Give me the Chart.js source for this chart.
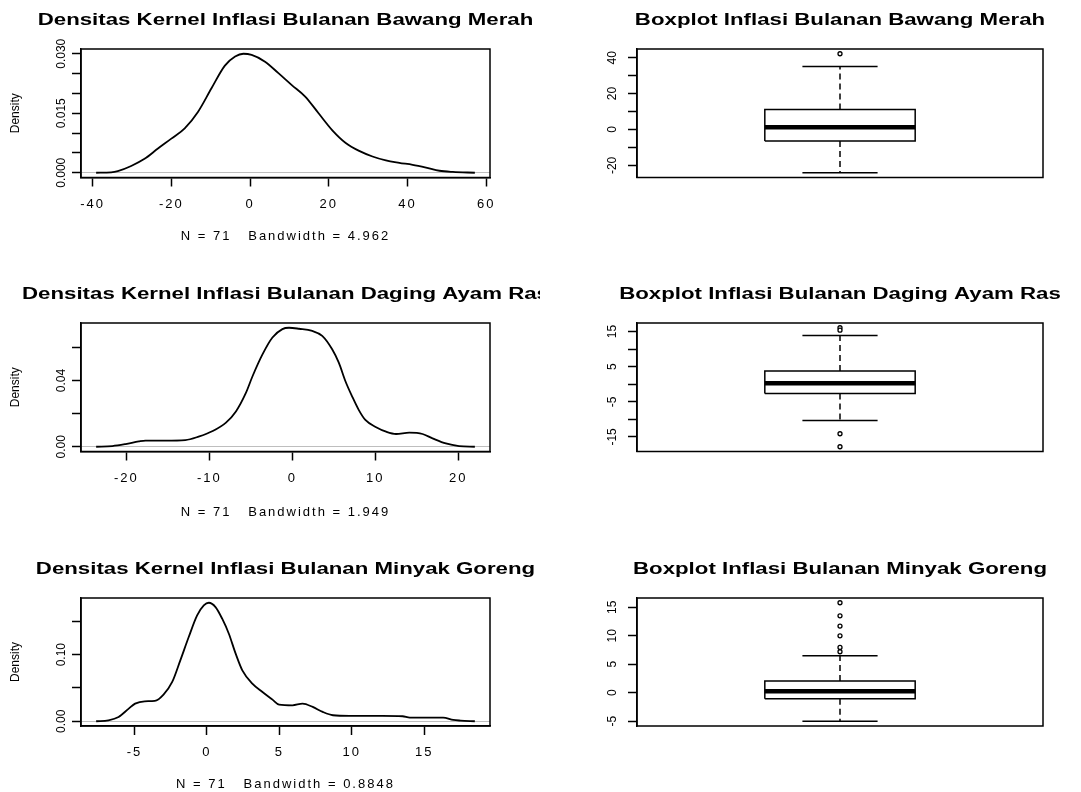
<!DOCTYPE html>
<html>
<head>
<meta charset="utf-8">
<title>Inflasi Bulanan</title>
<script src="https://cdn.jsdelivr.net/npm/chart.js@4.4.1/dist/chart.umd.min.js"></script>
<style>
  body { margin: 0; background: #fff; }
  #wrap { position: relative; width: 1081px; height: 792px; overflow: hidden; }
  #wrap canvas { position: absolute; }
</style>
</head>
<body>
<div id="wrap">
  <canvas id="dens0" width="540" height="264" style="left:0;top:0"></canvas>
  <canvas id="box0" width="541" height="264" style="left:540px;top:0"></canvas>
  <canvas id="dens1" width="540" height="264" style="left:0;top:264px"></canvas>
  <canvas id="box1" width="541" height="264" style="left:540px;top:264px"></canvas>
  <canvas id="dens2" width="540" height="264" style="left:0;top:528px"></canvas>
  <canvas id="box2" width="541" height="264" style="left:540px;top:528px"></canvas>
</div>
<script>
// ---- data ----
var komoditas = ['Bawang Merah', 'Daging Ayam Ras', 'Minyak Goreng'];
var nObs = 71;
var bandwidth = ['4.962', '1.949', '0.8848'];

// kurva densitas kernel (x, density)
var bawangX = [-39.1, -35.3, -33.6, -30.2, -26.8, -23.4, -20.0, -16.6, -13.2, -9.8, -6.4, -3.8, -1.7, 0.4, 3.8, 7.2, 10.6, 14.0, 17.4, 20.9, 24.3, 27.7, 31.1, 34.5, 37.9, 41.3, 44.7, 48.1, 51.5, 57.1];
var bawangY = [0, 0.0001, 0.0004, 0.0017, 0.0035, 0.0061, 0.0086, 0.0112, 0.0154, 0.0213, 0.0270, 0.0293, 0.0300, 0.0297, 0.0280, 0.0251, 0.0221, 0.0192, 0.0150, 0.0107, 0.0075, 0.0055, 0.0041, 0.0031, 0.0025, 0.0020, 0.0013, 0.0005, 0.0002, 0];
var ayamX = [-23.65, -21.7, -20.1, -18.5, -17.7, -15.3, -12.9, -11.3, -9.6, -8.0, -6.8, -5.6, -4.8, -3.6, -2.4, -1.2, -0.4, 0.8, 2.4, 3.6, 4.8, 5.6, 6.4, 7.2, 8.0, 8.8, 10.1, 11.3, 12.5, 14.1, 15.7, 16.9, 18.5, 20.1, 22.0];
var ayamY = [0, 0.0004, 0.0016, 0.0032, 0.0037, 0.0037, 0.0040, 0.0061, 0.0095, 0.0146, 0.0213, 0.0325, 0.0426, 0.0558, 0.0660, 0.0711, 0.0719, 0.0713, 0.0700, 0.0670, 0.0589, 0.0508, 0.0396, 0.0305, 0.0223, 0.0162, 0.0118, 0.0091, 0.0077, 0.0085, 0.0077, 0.0051, 0.0020, 0.0004, 0];
var minyakX = [-7.65, -6.8, -6.1, -5.4, -4.96, -4.3, -3.6, -3.0, -2.4, -1.84, -1.26, -0.68, -0.22, 0.13, 0.59, 1.05, 1.51, 1.98, 2.44, 3.13, 3.83, 4.52, 4.98, 5.9, 6.6, 7.3, 7.99, 8.7, 9.84, 12.1, 13.5, 14.0, 16.3, 17.0, 17.5, 18.49];
var minyakY = [0, 0.0015, 0.0065, 0.019, 0.0265, 0.030, 0.0305, 0.040, 0.059, 0.0915, 0.1265, 0.159, 0.174, 0.178, 0.1715, 0.154, 0.1315, 0.1015, 0.0765, 0.0565, 0.044, 0.0325, 0.025, 0.024, 0.0265, 0.0215, 0.014, 0.009, 0.008, 0.008, 0.0075, 0.0055, 0.0055, 0.002, 0.001, 0];

// boxplot: [whisker bawah, Q1, median, Q3, whisker atas] dan pencilan
var bawangBox = [-24.1, -6.4, 1.3, 11.2, 35.1];
var bawangOut = [42.2];
var ayamBox = [-10.3, -2.6, 0.3, 3.8, 13.9];
var ayamOut = [16.1, 15.4, -14.1, -17.8];
var minyakBox = [-5.0, -1.05, 0.25, 2.05, 6.5];
var minyakOut = [15.8, 13.5, 11.7, 10.0, 7.95, 7.2];

// label sumbu
var densXLabels = [['-40', '-20', '0', '20', '40', '60'], ['-20', '-10', '0', '10', '20'], ['-5', '0', '5', '10', '15']];
var densYLabels = [['0.000', '0.015', '0.030'], ['0.00', '0.04'], ['0.00', '0.10']];
var boxYLabels = [['-20', '0', '20', '40'], ['-15', '-5', '5', '15'], ['-5', '0', '5', '10', '15']];

var densX = [bawangX, ayamX, minyakX];
var densY = [bawangY, ayamY, minyakY];
var boxStats = [bawangBox, ayamBox, minyakBox];
var boxOut = [bawangOut, ayamOut, minyakOut];

// ---- tampilan ----
var densXStep = [20, 10, 5];
var densYStep = [0.005, 0.02, 0.05];
var densYDec = [3, 2, 2];
var boxYStep = [10, 5, 5];

var plotTop = [49, 59, 70];
var plotBottom = [177.5, 187.5, 198];
var xTitlePad = [20.2, 8.2, 0.2];
var FONT = '"Liberation Sans", Arial, Helvetica, sans-serif';
var BOX_HALF = 0.2, CAP_HALF = 0.1;

Chart.defaults.font.family = FONT;
Chart.defaults.color = '#000';

function lim(values) {
  var lo = Math.min.apply(null, values), hi = Math.max.apply(null, values);
  var d = (hi - lo) * 0.04;
  return [lo - d, hi + d];
}

function pick(labels, dec) {
  return function (v) {
    var s = Number(v).toFixed(dec);
    return labels.indexOf(s) >= 0 ? s : '';
  };
}

// jarak label y (diputar) supaya tengahnya pas
function labelPad(labels, gap) {
  var c = document.createElement('canvas').getContext('2d');
  c.font = '12px ' + FONT;
  var w = Math.max.apply(null, labels.map(function (s) { return c.measureText(s).width; }));
  return gap - w / 2;
}

var frame = {
  id: 'frame',
  beforeDraw: function (chart) { chart.ctx.letterSpacing = '0px'; },
  afterDatasetsDraw: function (chart) {
    var a = chart.chartArea, ctx = chart.ctx;
    ctx.save();
    ctx.strokeStyle = '#000';
    ctx.lineWidth = 1.5;
    ctx.strokeRect(a.left, a.top, a.right - a.left, a.bottom - a.top);
    ctx.restore();
    ctx.letterSpacing = '2px';   // teks horizontal sumbu x
  }
};

// judul panel, ditarik melebar seperti gambar aslinya
var panelTitle = {
  id: 'panelTitle',
  afterDraw: function (chart, args, opts) {
    var a = chart.chartArea, ctx = chart.ctx;
    ctx.save();
    ctx.letterSpacing = '0px';
    ctx.font = 'bold 16px ' + FONT;
    ctx.fillStyle = '#000';
    ctx.textAlign = 'center';
    ctx.textBaseline = 'middle';
    ctx.translate((a.left + a.right) / 2, a.top - 28);
    ctx.scale(1.39, 1);
    ctx.fillText(opts.text, 0, 0);
    ctx.restore();
  }
};

function yAxis(range, step, labels, dec, width, gap, zeroLine) {
  return {
    type: 'linear',
    position: 'left',
    min: range[0],
    max: range[1],
    afterFit: function (s) { s.width = width; },
    border: { color: '#000', width: 1.5 },
    grid: {
      color: function (c) { return zeroLine && c.tick && c.tick.value === 0 ? '#bebebe' : 'rgba(0,0,0,0)'; },
      lineWidth: 1,
      tickColor: '#000',
      tickWidth: 1.5,
      tickLength: 9
    },
    ticks: {
      stepSize: step,
      includeBounds: false,
      autoSkip: false,
      minRotation: 90,
      maxRotation: 90,
      crossAlign: 'center',
      padding: labelPad(labels, gap),
      font: { size: 12 },
      callback: pick(labels, dec)
    }
  };
}

function densityChart(i) {
  var pts = densX[i].map(function (x, k) { return { x: x, y: densY[i][k] }; });
  var ymax = Math.max.apply(null, densY[i]);
  var ylim = [-0.04 * ymax, 1.04 * ymax];
  var xlim = lim(densX[i]);
  var y = yAxis(ylim, densYStep[i], densYLabels[i], densYDec[i], 81, 10.5, true);
  y.title = { display: true, text: 'Density', font: { size: 12 }, padding: { top: 8.8, bottom: 0 } };

  new Chart(document.getElementById('dens' + i), {
    type: 'scatter',
    data: {
      datasets: [{
        data: pts,
        showLine: true,
        borderColor: '#000',
        borderWidth: 1.8,
        pointRadius: 0,
        cubicInterpolationMode: 'monotone'
      }]
    },
    options: {
      responsive: false,
      animation: false,
      devicePixelRatio: 1,
      layout: { padding: { top: plotTop[i], right: 50, left: 0, bottom: 0 } },
      plugins: {
        legend: { display: false },
        tooltip: { enabled: false },
        panelTitle: { text: 'Densitas Kernel Inflasi Bulanan ' + komoditas[i] }
      },
      scales: {
        x: {
          type: 'linear',
          position: 'bottom',
          min: xlim[0],
          max: xlim[1],
          afterFit: function (s) { s.height = 264 - plotBottom[i]; },
          border: { color: '#000', width: 1.5, z: 1 },
          grid: { drawOnChartArea: false, tickColor: '#000', tickWidth: 1.5, tickLength: 9, z: 1 },
          ticks: {
            stepSize: densXStep[i],
            includeBounds: false,
            autoSkip: false,
            maxRotation: 0,
            padding: 10,
            font: { size: 13 },
            z: 1,
            callback: pick(densXLabels[i], 0)
          },
          title: {
            display: true,
            text: 'N = ' + nObs + '   Bandwidth = ' + bandwidth[i],
            font: { size: 13 },
            padding: { top: 0, bottom: xTitlePad[i] }
          }
        },
        y: y
      }
    },
    plugins: [frame, panelTitle]
  });
}

function line(points, width, dash) {
  return {
    data: points,
    showLine: true,
    borderColor: '#000',
    borderWidth: width,
    borderDash: dash || [],
    pointRadius: 0
  };
}

function boxChart(i) {
  var s = boxStats[i];
  var lo = s[0], q1 = s[1], med = s[2], q3 = s[3], hi = s[4];
  var ylim = lim(s.concat(boxOut[i]));

  var datasets = [
    line([{ x: 1, y: q3 }, { x: 1, y: hi }], 1.5, [6, 4]),
    line([{ x: 1, y: q1 }, { x: 1, y: lo }], 1.5, [6, 4]),
    line([{ x: 1 - CAP_HALF, y: hi }, { x: 1 + CAP_HALF, y: hi }], 1.5),
    line([{ x: 1 - CAP_HALF, y: lo }, { x: 1 + CAP_HALF, y: lo }], 1.5),
    line([{ x: 1 - BOX_HALF, y: q1 }, { x: 1 + BOX_HALF, y: q1 }, { x: 1 + BOX_HALF, y: q3 },
          { x: 1 - BOX_HALF, y: q3 }, { x: 1 - BOX_HALF, y: q1 }], 1.5),
    line([{ x: 1 - BOX_HALF, y: med }, { x: 1 + BOX_HALF, y: med }], 4.5),
    {
      data: boxOut[i].map(function (v) { return { x: 1, y: v }; }),
      pointRadius: 2,
      pointBorderWidth: 1.3,
      pointBorderColor: '#000',
      pointBackgroundColor: '#fff'
    }
  ];

  new Chart(document.getElementById('box' + i), {
    type: 'scatter',
    data: { datasets: datasets },
    options: {
      responsive: false,
      animation: false,
      devicePixelRatio: 1,
      layout: { padding: { top: plotTop[i], right: 38, left: 0, bottom: 264 - plotBottom[i] } },
      plugins: {
        legend: { display: false },
        tooltip: { enabled: false },
        panelTitle: { text: 'Boxplot Inflasi Bulanan ' + komoditas[i] }
      },
      scales: {
        x: { type: 'linear', min: 0.46, max: 1.54, display: false },
        y: yAxis(ylim, boxYStep[i], boxYLabels[i], 0, 97, 15.5, false)
      }
    },
    plugins: [frame, panelTitle]
  });
}

for (var i = 0; i < 3; i++) {
  densityChart(i);
  boxChart(i);
}
</script>
</body>
</html>
